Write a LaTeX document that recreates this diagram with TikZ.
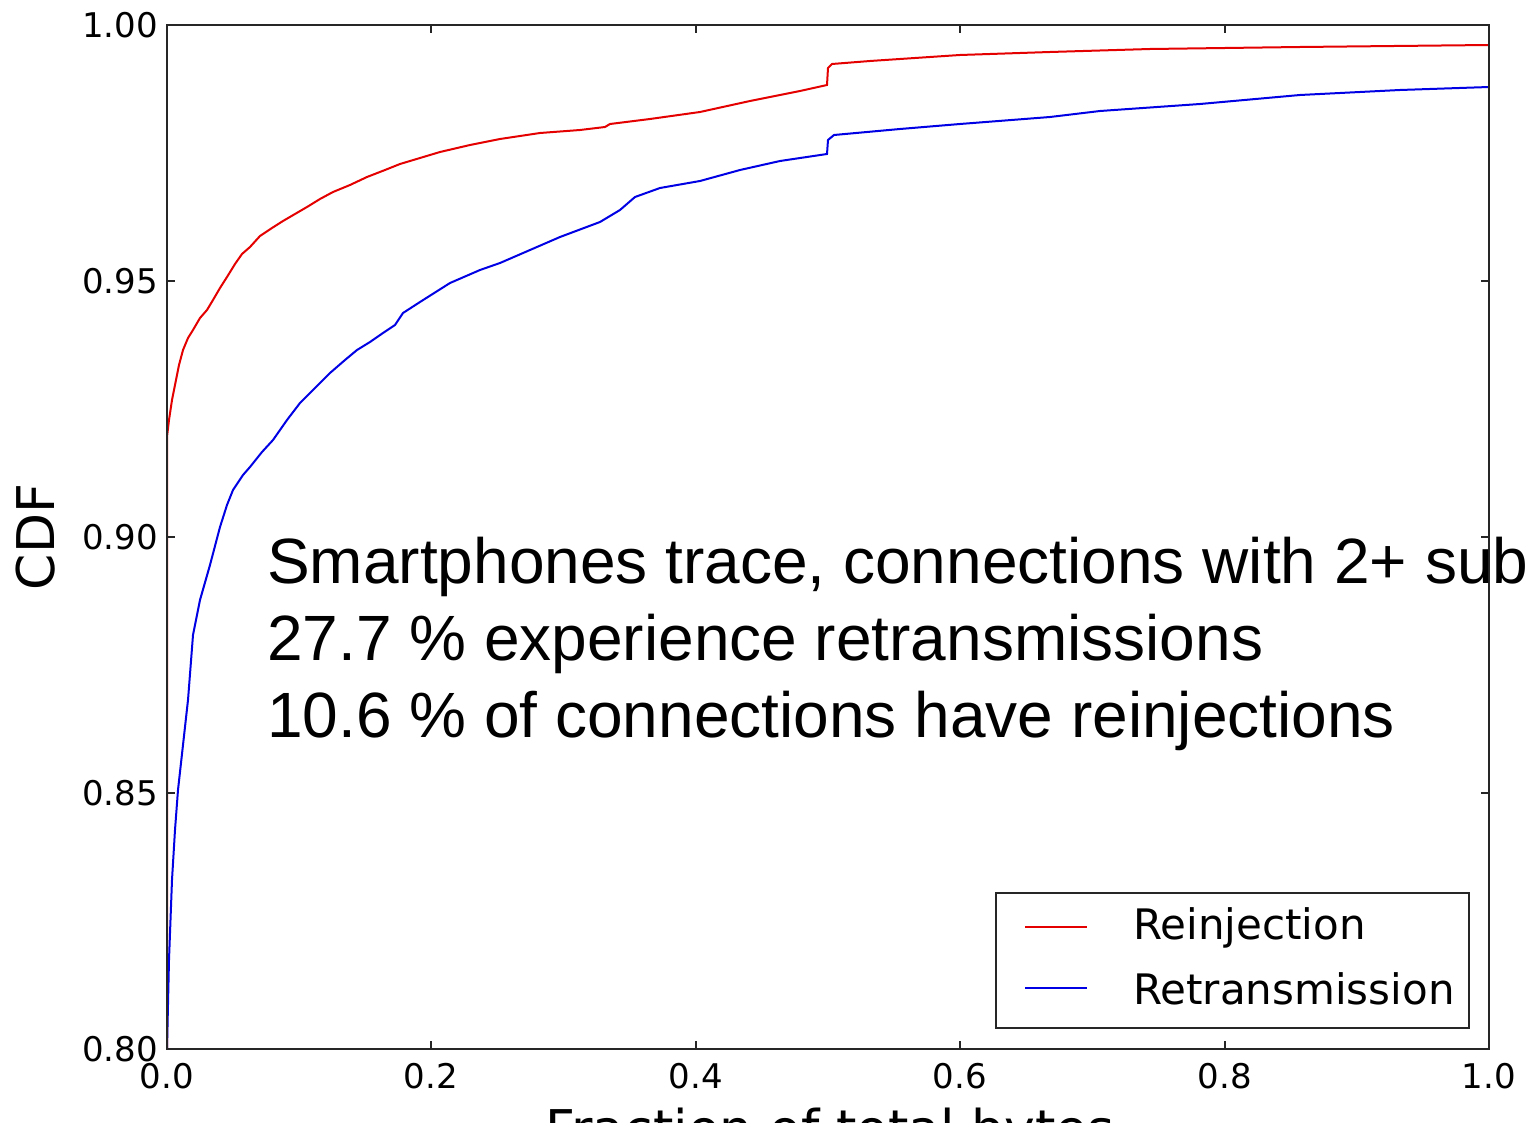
\documentclass[tikz,border=0pt]{standalone}
\usepackage{fontspec}
\newfontfamily\dejavu{DejaVu Sans}
\newfontfamily\arial{Liberation Sans}
\begin{document}
\begin{tikzpicture}[x=1pt,y=-1pt,
  tick/.style={font=\dejavu\fontsize{34}{38}\selectfont, inner sep=0pt},
  frame/.style={line width=2.5pt, black!85},
  tk/.style={line width=1.5pt, black!85},
  redc/.style={line width=2pt, red!90!black},
  bluec/.style={line width=2pt, blue!90!black},
  note/.style={font=\arial\fontsize{64}{77}\selectfont, anchor=base west, inner sep=0pt},
  leg/.style={font=\dejavu\fontsize{42}{46}\selectfont, anchor=west, inner sep=0pt}]
\useasboundingbox (0,0) rectangle (1528,1123);
\clip (0,0) rectangle (1528,1123);
\fill[white] (0,0) rectangle (1528,1123);
% axes corners
\coordinate (tl) at (167,25);
\coordinate (br) at (1489,1049);
% curves
\draw[redc] plot coordinates {(167,1049) (167,437) (169,420) (172,400) (175,385) (179,365) (183,350) (188,338) (193,330) (200,318) (207,310) (213,300) (220,288) (227,277) (235,264) (242,254) (250,247) (260,236) (272,228) (283,221) (295,214) (307,207) (320,199) (333,192) (350,185) (367,177) (385,170) (400,164) (420,158) (440,152) (470,145) (500,139) (540,133) (580,130) (605,127) (610,124) (650,119) (700,112) (750,101) (800,91) (827,85) (828,68) (832,64) (870,61) (900,59) (960,55) (1050,52) (1150,49) (1300,47) (1489,45)};
\draw[bluec] plot coordinates {(167,1049) (169,960) (172,880) (175,830) (178,790) (183,745) (188,700) (193,635) (200,600) (210,565) (220,527) (227,505) (233,490) (243,475) (250,467) (262,452) (273,440) (287,420) (300,403) (315,388) (330,373) (345,360) (357,350) (370,342) (383,333) (395,325) (403,313) (420,302) (450,283) (480,270) (500,263) (530,250) (560,237) (600,222) (620,210) (635,197) (660,188) (700,181) (740,170) (780,161) (827,154) (828,140) (834,135) (900,129) (960,124) (1050,117) (1100,111) (1200,104) (1300,95) (1400,90) (1489,87)};
% frame
\draw[frame] (tl) rectangle (br);
% ticks
\foreach \x in {431,696,960,1225} {
  \draw[tk] (\x,1049) -- (\x,1041);
  \draw[tk] (\x,25) -- (\x,33);
}
\foreach \y in {281,537,793} {
  \draw[tk] (167,\y) -- (175,\y);
  \draw[tk] (1489,\y) -- (1481,\y);
}
% tick labels
\node[tick, anchor=east] (y100) at (158,25) {1.00};
\node[tick, anchor=east] (y95) at (158,281) {0.95};
\node[tick, anchor=east] (y90) at (158,537) {0.90};
\node[tick, anchor=east] (y85) at (158,793) {0.85};
\node[tick, anchor=east] (y80) at (158,1049) {0.80};
\node[tick, anchor=north] (x0) at (167,1063) {0.0};
\node[tick, anchor=north] (x2) at (431,1063) {0.2};
\node[tick, anchor=north] (x4) at (696,1063) {0.4};
\node[tick, anchor=north] (x6) at (960,1063) {0.6};
\node[tick, anchor=north] (x8) at (1225,1063) {0.8};
\node[tick, anchor=north] (x10) at (1489,1063) {1.0};
% axis labels
\node[font=\dejavu\fontsize{52}{58}\selectfont, rotate=90, inner sep=0pt] (ylab) at (36,537) {CDF};
\node[font=\dejavu\fontsize{52}{58}\selectfont, anchor=base, inner sep=0pt] (xlab) at (830,1147) {Fraction of total bytes};
% note
\node[note] (n1) at (267,583) {Smartphones trace, connections with 2+ subflows};
\node[note] (n2) at (267,660) {27.7 \% experience retransmissions};
\node[note] (n3) at (267,737) {10.6 \% of connections have reinjections};
% legend
\node[draw=black!85, line width=2pt, fill=white, minimum width=473pt, minimum height=135pt, anchor=north west, inner sep=0pt] (legbox) at (995,892) {};
\coordinate (r1) at (1025,927);
\coordinate (r2) at (1087,927);
\coordinate (b1) at (1025,988);
\coordinate (b2) at (1087,988);
\draw[redc] (r1) -- (r2);
\draw[bluec] (b1) -- (b2);
\node[leg] (l1) at (1133,928) {Reinjection};
\node[leg] (l2) at (1133,989) {Retransmission};
\end{tikzpicture}
\end{document}
